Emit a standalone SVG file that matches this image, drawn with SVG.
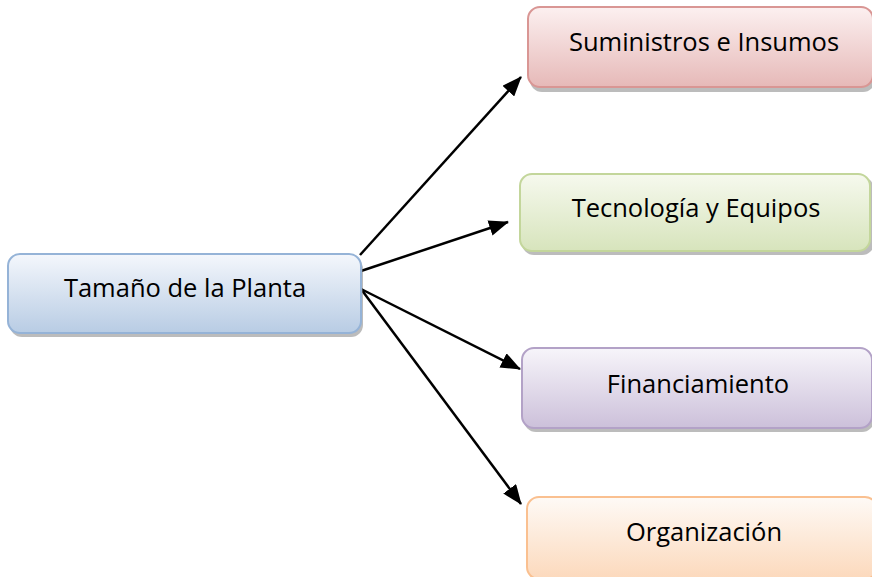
<svg xmlns="http://www.w3.org/2000/svg" width="872" height="577" viewBox="0 0 872 577">
  <style>
    .lbl { font-family: "Open Sans", "Noto Sans", "Liberation Sans", sans-serif; font-size: 25.5px; fill: #000; text-anchor: middle; }
    .shadow { fill: #7a7a7a; fill-opacity: 0.5; }
    .conn { stroke: #000; stroke-width: 2.5; fill: none; marker-end: url(#arrow); }
  </style>
  <defs>
    <marker id="arrow" markerUnits="userSpaceOnUse" markerWidth="20" markerHeight="16" refX="19" refY="8" orient="auto">
      <path d="M0,0 L20,8 L0,16 z" fill="#000"/>
    </marker>
    <linearGradient id="gBlue" x1="0" y1="0" x2="0" y2="1">
      <stop offset="0" stop-color="#f4f7fc"/>
      <stop offset="1" stop-color="#b8cce4"/>
    </linearGradient>
    <linearGradient id="gRed" x1="0" y1="0" x2="0" y2="1">
      <stop offset="0" stop-color="#fcf0f0"/>
      <stop offset="1" stop-color="#e6b9b8"/>
    </linearGradient>
    <linearGradient id="gGreen" x1="0" y1="0" x2="0" y2="1">
      <stop offset="0" stop-color="#f6f9ee"/>
      <stop offset="1" stop-color="#d7e4bc"/>
    </linearGradient>
    <linearGradient id="gPurple" x1="0" y1="0" x2="0" y2="1">
      <stop offset="0" stop-color="#f7f5fa"/>
      <stop offset="1" stop-color="#ccc0da"/>
    </linearGradient>
    <linearGradient id="gOrange" x1="0" y1="0" x2="0" y2="1">
      <stop offset="0" stop-color="#fefaf6"/>
      <stop offset="1" stop-color="#fcd9bc"/>
    </linearGradient>
  </defs>

  <g id="connectors">
    <line class="conn" x1="360" y1="255" x2="521" y2="77"/>
    <line class="conn" x1="361" y1="271" x2="508" y2="222"/>
    <line class="conn" x1="361" y1="289" x2="520" y2="369"/>
    <line class="conn" x1="361" y1="289" x2="521" y2="504"/>
  </g>

  <g id="node-planta">
    <rect class="shadow" x="10" y="257" width="353" height="80" rx="12"/>
    <rect x="8" y="254" width="353" height="79" rx="12" fill="url(#gBlue)" stroke="#95b3d7" stroke-width="2"/>
    <text class="lbl" x="185" y="297">Tamaño de la Planta</text>
  </g>

  <g id="node-suministros">
    <rect class="shadow" x="530" y="10" width="345" height="82" rx="12"/>
    <rect x="528" y="7" width="345" height="80" rx="12" fill="url(#gRed)" stroke="#d99694" stroke-width="2"/>
    <text class="lbl" x="704" y="51">Suministros e Insumos</text>
  </g>

  <g id="node-tecnologia">
    <rect class="shadow" x="522" y="177" width="352" height="78" rx="12"/>
    <rect x="520" y="174" width="350" height="77" rx="12" fill="url(#gGreen)" stroke="#c3d69b" stroke-width="2"/>
    <text class="lbl" x="696" y="217">Tecnología y Equipos</text>
  </g>

  <g id="node-financiamiento">
    <rect class="shadow" x="524" y="351" width="350" height="81" rx="12"/>
    <rect x="522" y="348" width="350" height="80" rx="12" fill="url(#gPurple)" stroke="#b3a2c7" stroke-width="2"/>
    <text class="lbl" x="698" y="393">Financiamiento</text>
  </g>

  <g id="node-organizacion">
    <rect class="shadow" x="529" y="500" width="350" height="82" rx="12"/>
    <rect x="527" y="497" width="350" height="82" rx="12" fill="url(#gOrange)" stroke="#fac090" stroke-width="2"/>
    <text class="lbl" x="704" y="541">Organización</text>
  </g>
</svg>
